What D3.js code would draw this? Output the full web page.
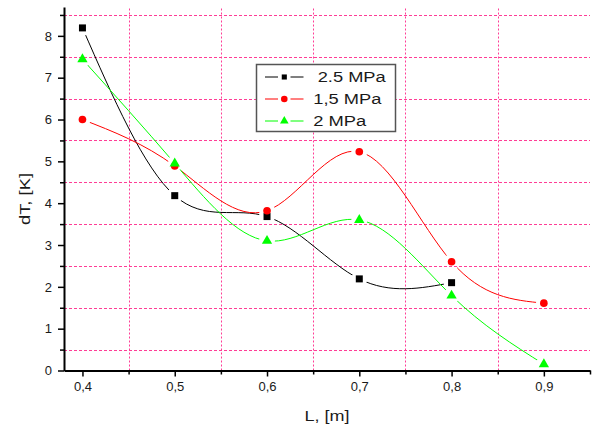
<!DOCTYPE html>
<html><head><meta charset="utf-8">
<script src="https://cdn.jsdelivr.net/npm/d3@7"></script>
<style>body{margin:0;background:#fff}svg{display:block}</style>
</head><body><svg id="c" width="596" height="430"></svg>
<script>
// ---- data ----
const xValues = [0.4, 0.5, 0.6, 0.7, 0.8, 0.9];
const seriesNames = ["2.5 MPa", "1,5 MPa", "2 MPa"];
const series25 = [8.19, 4.18, 3.68, 2.19, 2.10];
const series15 = [6.00, 4.89, 3.82, 5.23, 2.60, 1.61];
const series2 = [7.44, 4.95, 3.10, 3.60, 1.79, 0.15];
const xTicks = [0.4, 0.5, 0.6, 0.7, 0.8, 0.9];
const xMinorTicks = [0.45, 0.55, 0.65, 0.75, 0.85, 0.95];
const yTicks = [0, 1, 2, 3, 4, 5, 6, 7, 8];
const yMinorTicks = [0.5, 1.5, 2.5, 3.5, 4.5, 5.5, 6.5, 7.5, 8.5];
const xLabel = "L, [m]";
const yLabel = "dT, [K]";

// ---- setup ----
const svg = d3.select("#c");
const W = 596, H = 430;
const FONT = "'Liberation Sans', Arial, sans-serif";
const x = d3.scaleLinear().domain([0.38, 0.95]).range([64, 590]);
const y = d3.scaleLinear().domain([0, 8.69]).range([370.5, 7]);
const gridColor = "#ff3d96";

const series = [
  {name: seriesNames[0], values: series25, color: "#000000", sym: d3.symbolSquare, size: 49, lsize: 26},
  {name: seriesNames[1], values: series15, color: "#ff0000", sym: d3.symbolCircle, size: 46, lsize: 34},
  {name: seriesNames[2], values: series2, color: "#00ff00", sym: d3.symbolTriangle, size: 46, lsize: 32}
];
series.forEach(s => s.pts = s.values.map((v, i) => [xValues[i], v]));

// ---- grid ----
const grid = svg.append("g");
grid.selectAll("line.h").data(yMinorTicks).join("line")
  .attr("x1", x.range()[0]).attr("x2", x.range()[1])
  .attr("y1", d => Math.round(y(d)) + 0.5).attr("y2", d => Math.round(y(d)) + 0.5)
  .attr("stroke", gridColor).attr("stroke-width", 1).attr("stroke-dasharray", "3,2");
grid.selectAll("line.v").data(xMinorTicks.slice(0, 5)).join("line")
  .attr("x1", d => Math.round(x(d)) + 0.5).attr("x2", d => Math.round(x(d)) + 0.5)
  .attr("y1", y.range()[0]).attr("y2", y.range()[1])
  .attr("stroke", gridColor).attr("stroke-width", 1).attr("stroke-dasharray", "2,2");

// ---- masks for line gaps around markers ----
const defs = svg.append("defs");
series.forEach((s, i) => {
  const m = defs.append("mask").attr("id", "gap" + i).attr("maskUnits", "userSpaceOnUse")
    .attr("x", 0).attr("y", 0).attr("width", W).attr("height", H);
  m.append("rect").attr("width", W).attr("height", H).attr("fill", "#fff");
  m.selectAll("circle").data(s.pts).join("circle")
    .attr("cx", d => x(d[0])).attr("cy", d => y(d[1])).attr("r", 8).attr("fill", "#000");
});

// ---- lines ----
const line = d3.line().x(d => x(d[0])).y(d => y(d[1])).curve(d3.curveNatural);
series.forEach((s, i) => {
  svg.append("path").datum(s.pts).attr("d", line)
    .attr("fill", "none").attr("stroke", s.color).attr("stroke-width", 1)
    .attr("mask", `url(#gap${i})`);
});

// ---- markers ----
series.forEach(s => {
  svg.append("g").selectAll("path").data(s.pts).join("path")
    .attr("transform", d => `translate(${x(d[0])},${y(d[1])})`)
    .attr("d", d3.symbol().type(s.sym).size(s.size))
    .attr("fill", s.color);
});

// ---- axes ----
const fmt = d => d3.format(".1f")(d).replace(".", ",");
const gx = svg.append("g").attr("transform", `translate(0,${y(0)})`)
  .call(d3.axisBottom(x).tickValues(xTicks).tickSize(6).tickPadding(5).tickSizeOuter(0).tickFormat(fmt));
svg.append("g").attr("transform", `translate(0,${y(0)})`)
  .call(d3.axisBottom(x).tickValues(xMinorTicks).tickSize(4).tickSizeOuter(0).tickFormat(""))
  .call(g => g.select(".domain").remove());
const gy = svg.append("g").attr("transform", `translate(${x(0.38)},0)`)
  .call(d3.axisLeft(y).tickValues(yTicks).tickSize(6).tickPadding(6).tickSizeOuter(0).tickFormat(d3.format("d")));
svg.append("g").attr("transform", `translate(${x(0.38)},0)`)
  .call(d3.axisLeft(y).tickValues(yMinorTicks).tickSize(4).tickSizeOuter(0).tickFormat(""))
  .call(g => g.select(".domain").remove());
svg.selectAll(".domain").attr("stroke", "#000").attr("stroke-width", 2);
svg.selectAll(".tick line").attr("stroke", "#000").attr("stroke-width", 1.5);
svg.selectAll(".tick text").attr("font-family", FONT).attr("font-size", 13).attr("fill", "#1a1a1a");

// axis titles
svg.append("text").attr("x", (x.range()[0] + x.range()[1]) / 2).attr("y", 421)
  .attr("text-anchor", "middle").attr("font-family", FONT).attr("font-size", 14)
  .attr("textLength", 45).attr("lengthAdjust", "spacingAndGlyphs").attr("fill", "#1a1a1a")
  .text(xLabel);
svg.append("text").attr("transform", "translate(30,199) rotate(-90)")
  .attr("text-anchor", "middle").attr("font-family", FONT).attr("font-size", 14)
  .attr("textLength", 52).attr("lengthAdjust", "spacingAndGlyphs").attr("fill", "#1a1a1a")
  .text(yLabel);

// ---- legend ----
const lg = svg.append("g");
lg.append("rect").attr("x", 256.5).attr("y", 64.5).attr("width", 139).attr("height", 67)
  .attr("fill", "#fff").attr("stroke", "#555").attr("stroke-width", 1.5);
const rowY = [77, 99, 121];
const textX = [317.7, 313.3, 313.3];
const textW = [68, 68, 53];
series.forEach((s, i) => {
  const ry = rowY[i];
  lg.append("line").attr("x1", 265).attr("x2", 278).attr("y1", ry).attr("y2", ry)
    .attr("stroke", s.color).attr("stroke-width", 1);
  lg.append("line").attr("x1", 290.5).attr("x2", 303.5).attr("y1", ry).attr("y2", ry)
    .attr("stroke", s.color).attr("stroke-width", 1);
  lg.append("path").attr("transform", `translate(284.3,${ry})`)
    .attr("d", d3.symbol().type(s.sym).size(s.lsize)).attr("fill", s.color);
  lg.append("text").attr("x", textX[i]).attr("y", ry + 5).attr("font-family", FONT)
    .attr("font-size", 14).attr("textLength", textW[i]).attr("lengthAdjust", "spacingAndGlyphs")
    .attr("fill", "#1a1a1a").text(s.name);
});
</script>
</body></html>
